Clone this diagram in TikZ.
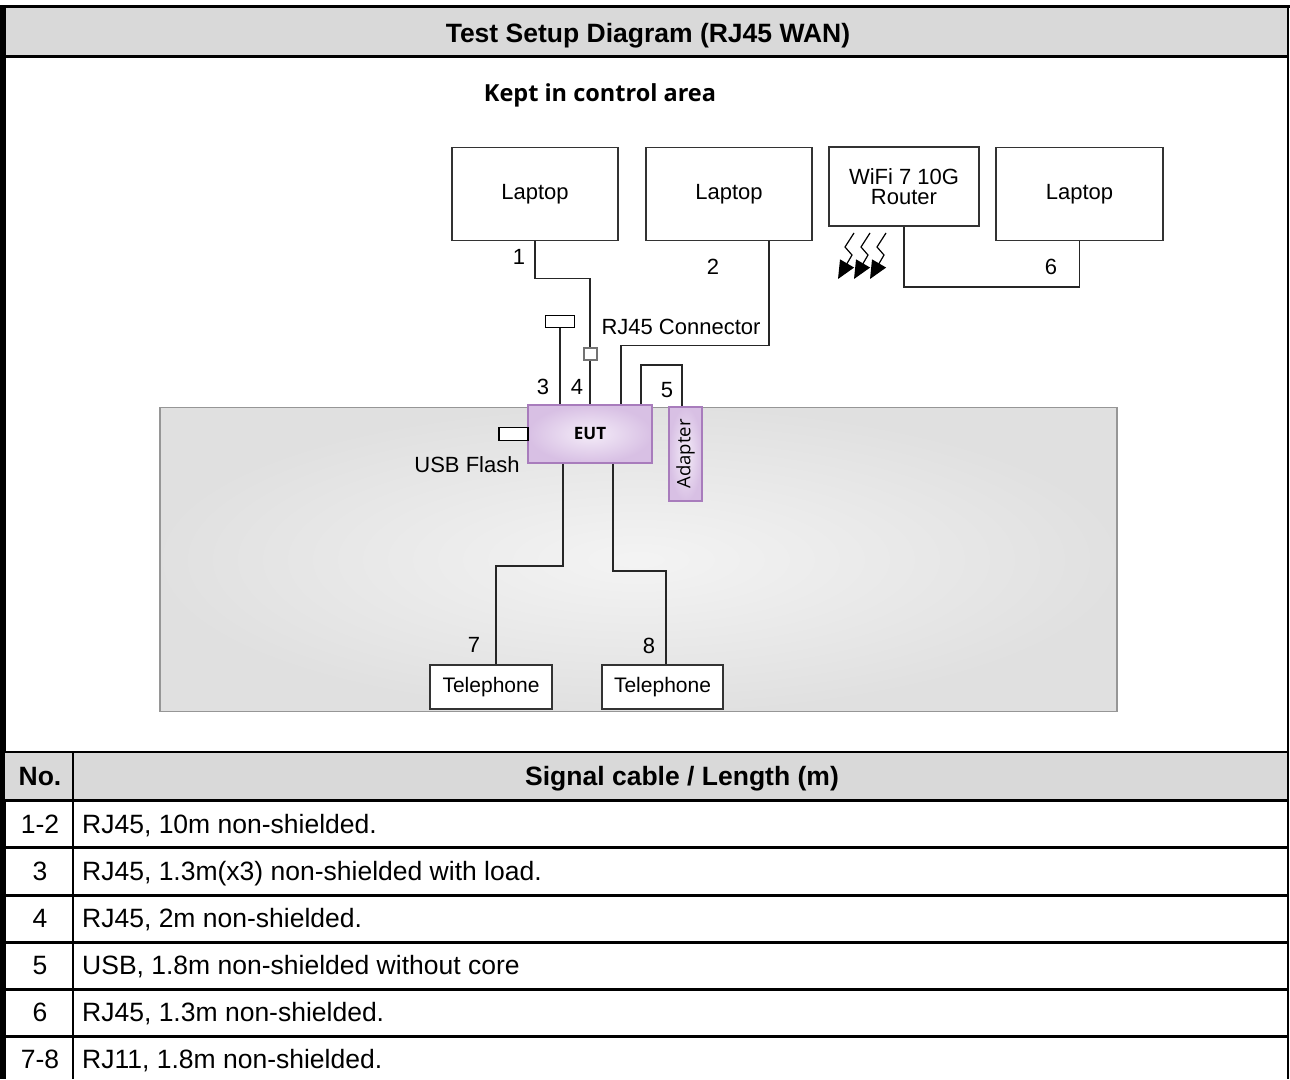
\documentclass[tikz,border=0pt]{standalone}
\usepackage{fontspec}
\setmainfont{Liberation Sans}
\newfontfamily\opensans{Open Sans}
\usetikzlibrary{arrows.meta, positioning}
\definecolor{bandgray}{RGB}{217,217,217}
\definecolor{eutedge}{RGB}{168,124,188}
\definecolor{eutin}{RGB}{244,236,248}
\definecolor{eutout}{RGB}{216,192,228}
\definecolor{deskedge}{RGB}{150,150,150}

\begin{document}
\begin{tikzpicture}[
    x=1pt, y=-1pt,
    device/.style={rectangle, draw=black!80, line width=1.6pt, fill=white, align=center, inner sep=0pt, font=\fontsize{22}{22}\selectfont},
    purplebox/.style={rectangle, draw=eutedge, line width=1.5pt, inner color=eutin, outer color=eutout, inner sep=0pt},
    plug/.style={rectangle, draw=black, line width=1.5pt, fill=white, inner sep=0pt},
    cable/.style={draw=black!85, line width=1.6pt},
    num/.style={inner sep=0pt, text height=15.8pt, text depth=0pt, font=\fontsize{22}{22}\selectfont},
    cell/.style={inner sep=0pt, text height=19pt, text depth=0pt, font=\fontsize{26.5}{28}\selectfont},
    hcell/.style={inner sep=0pt, text height=19pt, text depth=0pt, font=\bfseries\fontsize{26.5}{28}\selectfont},
    rule/.style={line width=3pt},
    wave/.style={line width=1.2pt, -{Triangle[length=18pt, width=16pt]}}
]
    \useasboundingbox (0,0) rectangle (1290,1079);

    % frame and title band
    \fill[bandgray] (5,8) rectangle (1288,55);
    \node[hcell] (title) at (648,33) {Test Setup Diagram (RJ45 WAN)};
    \draw[line width=3.5pt] (0,6.5) -- (1290,6.5);
    \draw[rule] (0,56) -- (1289,56);
    \draw[line width=5.5pt] (2.75,5) -- (2.75,1079);
    \draw[line width=2pt] (1288,5) -- (1288,1079);

    \node[inner sep=0pt, text height=16.8pt, text depth=0pt, font=\opensans\bfseries\fontsize{23.5}{24}\selectfont] (kept) at (600,93) {Kept in control area};

    % test table area
    \node[rectangle, draw=deskedge, line width=1.5pt, inner color=gray!9, outer color=gray!24, minimum width=957pt, minimum height=304pt] (desk) at (638.5,559.5) {};

    % devices
    \node[device, minimum width=166pt, minimum height=93pt] (lap1) at (535,194) {Laptop};
    \node[device, minimum width=166pt, minimum height=93pt] (lap2) at (729,194) {Laptop};
    \node[device, minimum width=150pt, minimum height=79pt] (router) at (904,186.5) {WiFi 7 10G\\[-2pt]Router};
    \node[device, minimum width=167pt, minimum height=93pt] (lap3) at (1079.5,194) {Laptop};
    \node[device, minimum width=122pt, minimum height=44pt, font=\fontsize{21}{21}\selectfont] (tel1) at (491,687) {Telephone};
    \node[device, minimum width=121pt, minimum height=44pt, font=\fontsize{21}{21}\selectfont] (tel2) at (662.5,687) {Telephone};

    \node[purplebox, minimum width=124pt, minimum height=58pt, font=\opensans\bfseries\fontsize{17}{17}\selectfont] (eut) at (590,434) {EUT};
    \node[purplebox, minimum width=33pt, minimum height=94pt, font=\opensans\fontsize{18.5}{18.5}\selectfont] (adapter) at (685.5,454) {\rotatebox{90}{Adapter}};
    \node[plug, minimum width=29pt, minimum height=13pt] (usb) at (513.5,434) {};
    \node[plug, minimum width=29pt, minimum height=12pt] (load) at (560,321.5) {};
    \node[plug, draw=black!55, line width=2pt, minimum width=13pt, minimum height=12pt] (rj45) at (590,353.5) {};

    % cables
    \draw[cable] (lap1.south) -- ++(0,37) -| (rj45.north);
    \draw[cable] (rj45.south) -- (rj45.south |- eut.north);
    \draw[cable] ([xshift=40pt]lap2.south) -- ++(0,104) -| ([xshift=31pt]eut.north);
    \draw[cable] (load.south) -- (load.south |- eut.north);
    \draw[cable] ([xshift=51pt]eut.north) -- ++(0,-39) -| ([xshift=-3.5pt]adapter.north);
    \draw[cable] (router.south) -- ++(0,60) -| (lap3.south);
    \draw[cable] ([xshift=-27pt]eut.south) -- ++(0,102) -| ([xshift=5pt]tel1.north);
    \draw[cable] ([xshift=23pt]eut.south) -- ++(0,107) -| ([xshift=3.5pt]tel2.north);

    % wireless link
    \foreach \i in {0,1,2}
        \draw[wave] (854+16*\i,233) -- (845+16*\i,247) -- (852+16*\i,255) -- (838+16*\i,279);

    % labels
    \node[num] (n1) at (519,257) {1};
    \node[num] (n2) at (713,267) {2};
    \node[num] (n3) at (543,387) {3};
    \node[num] (n4) at (577,387) {4};
    \node[num] (n5) at (667,390) {5};
    \node[num] (n6) at (1051,267) {6};
    \node[num] (n7) at (474,645) {7};
    \node[num] (n8) at (649,646) {8};
    \node[num] (rjtext) at (681,327) {RJ45 Connector};
    \node[num] (usbtext) at (467,465) {USB Flash};

    % cable list
    \fill[bandgray] (5,753) rectangle (1287,799);
    \draw[line width=2pt] (5,752) -- (1288,752);
    \draw[line width=1.5pt] (73,752) -- (73,1079);
    \node[hcell] (nohead) at (40,776) {No.};
    \node[hcell] (sighead) at (682,776) {Signal cable / Length (m)};
    \foreach \y in {800,847,895,942,989,1036}
        \draw[rule] (5,\y) -- (1288,\y);
    \foreach \y/\no/\txt in {824/1-2/{RJ45, 10m non-shielded.},
                             871/3/{RJ45, 1.3m(x3) non-shielded with load.},
                             918/4/{RJ45, 2m non-shielded.},
                             965/5/{USB, 1.8m non-shielded without core},
                             1012/6/{RJ45, 1.3m non-shielded.},
                             1059/7-8/{RJ11, 1.8m non-shielded.}} {
        \node[cell] at (40,\y) {\no};
        \node[cell, anchor=west] at (82,\y) {\txt};
    }
\end{tikzpicture}
\end{document}
